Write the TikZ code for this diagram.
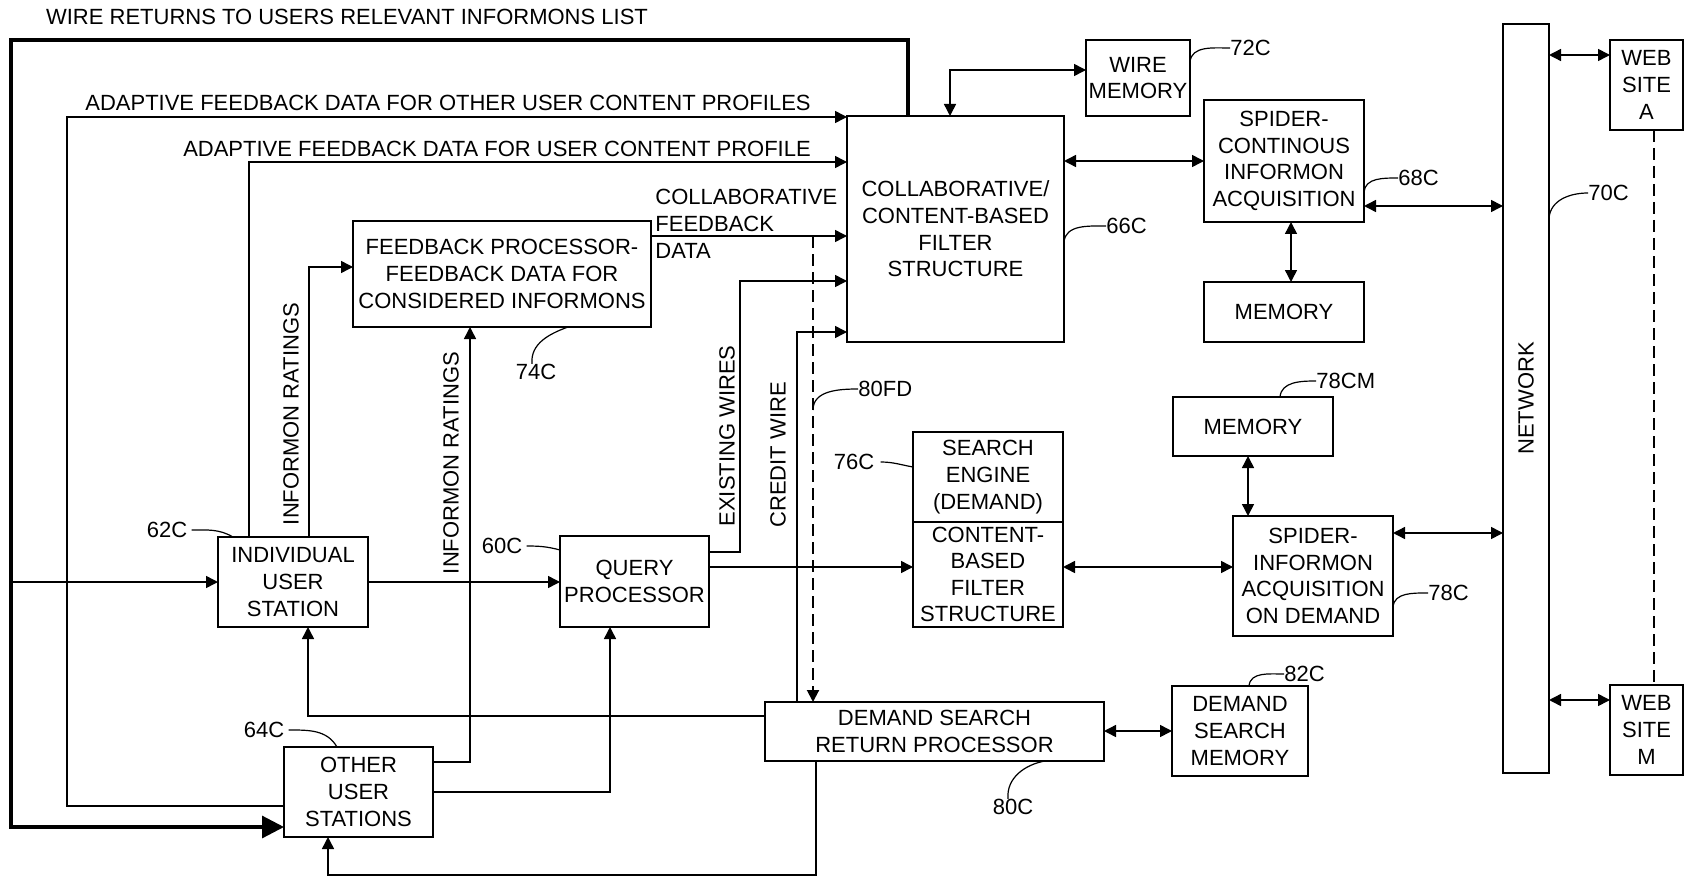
\documentclass[tikz,border=0pt]{standalone}
\usepackage{fontspec}
\setmainfont{Liberation Sans}
\usetikzlibrary{arrows.meta}
\newcommand{\bx}[6]{\node[box, minimum width={(#4-#2)*0.5pt}, minimum height={(#5-#3)*0.5pt}] (#1) at ({(#2+#4)/2},{(#3+#5)/2}) {#6};}
\begin{document}
\begin{tikzpicture}[x=0.5pt,y=-0.5pt,
  box/.style={draw, line width=0.75pt, inner sep=0pt, outer sep=0pt, align=center, font=\fontsize{11}{13.3}\selectfont},
  conn/.style={line width=0.75pt},
  arr/.style={conn, -{Triangle[length=6pt,width=6pt]}},
  darr/.style={conn, {Triangle[length=6pt,width=6pt]}-{Triangle[length=6pt,width=6pt]}},
  thickarr/.style={line width=1.6pt, -{Triangle[length=11pt,width=11pt]}},
  dsh/.style={line width=1pt, dash pattern=on 6pt off 3pt},
  lbl/.style={font=\fontsize{11}{13.3}\selectfont, inner sep=0pt},
  leader/.style={line width=0.6pt},
]
\useasboundingbox (0,0) rectangle (1690,882);

% boxes
\bx{collab}{847}{116}{1064}{342}{COLLABORATIVE/\\CONTENT-BASED\\FILTER\\STRUCTURE}
\bx{wirem}{1086}{40}{1190}{116}{WIRE\\MEMORY}
\bx{spiderc}{1204}{100}{1364}{222}{SPIDER-\\CONTINOUS\\INFORMON\\ACQUISITION}
\bx{memc}{1204}{282}{1364}{342}{MEMORY}
\bx{network}{1503}{24}{1549}{773}{}
\node[lbl, rotate=90] (nettext) at (network.center) {NETWORK};
\bx{webA}{1610}{40}{1683}{130}{WEB\\SITE\\A}
\bx{webM}{1610}{685}{1683}{775}{WEB\\SITE\\M}
\bx{memd}{1173}{397}{1333}{456}{MEMORY}
\bx{spiderd}{1233}{516}{1393}{636}{SPIDER-\\INFORMON\\ACQUISITION\\ON DEMAND}
\bx{search}{913}{432}{1063}{522}{SEARCH\\ENGINE\\(DEMAND)}
\bx{cbf}{913}{522}{1063}{627}{CONTENT-\\BASED\\FILTER\\STRUCTURE}
\bx{dsrp}{765}{702}{1104}{761}{DEMAND SEARCH\\RETURN PROCESSOR}
\bx{dsm}{1172}{686}{1308}{776}{DEMAND\\SEARCH\\MEMORY}
\bx{query}{560}{536}{709}{627}{QUERY\\PROCESSOR}
\bx{indiv}{218}{537}{368}{627}{INDIVIDUAL\\USER\\STATION}
\bx{other}{284}{747}{433}{837}{OTHER\\USER\\STATIONS}
\bx{fbp}{353}{221}{651}{327}{FEEDBACK PROCESSOR-\\FEEDBACK DATA FOR\\CONSIDERED INFORMONS}

% wire returns (thick)
\coordinate (wtop) at (11,40);
\coordinate (wbot) at (11,827);
\coordinate (wmid) at (11,582);
\draw[thickarr] (collab.north -| 908,0) -- (908,40) -- (wtop) -- (wbot) -- (other.west |- wbot);
\node[lbl, anchor=base] (ttl) at (347,25) {WIRE RETURNS TO USERS RELEVANT INFORMONS LIST};
\draw[arr] (wmid) -- (indiv.west |- wmid);

% adaptive feedback
\draw[arr] (other.west |- 0,806) -- (67,806) -- (67,117) -- (collab.west |- 0,117);
\node[lbl, anchor=base] (afo) at (448,111) {ADAPTIVE FEEDBACK DATA FOR OTHER USER CONTENT PROFILES};
\draw[arr] (indiv.north -| 249,0) -- (249,162) -- (collab.west |- 0,162);
\node[lbl, anchor=base] (afu) at (497,157) {ADAPTIVE FEEDBACK DATA FOR USER CONTENT PROFILE};

% informon ratings
\draw[arr] (indiv.north -| 309,0) -- (309,267) -- (fbp.west |- 0,267);
\node[lbl, rotate=90] (ir1) at (291,414) {INFORMON RATINGS};
\draw[arr] (other.east |- 0,762) -- (470,762) -- (fbp.south -| 470,0);
\node[lbl, rotate=90] (ir2) at (451,463) {INFORMON RATINGS};

% user stations to query processor
\draw[arr] (other.east |- 0,792) -- (610,792) -- (query.south -| 610,0);
\draw[arr] (indiv.east |- 0,582) -- (query.west |- 0,582);

% demand search returns
\draw[arr] (dsrp.west |- 0,716) -- (308,716) -- (indiv.south -| 308,0);
\draw[arr] (dsrp.south -| 816,0) -- (816,875) -- (328,875) -- (other.south -| 328,0);

% query processor outputs
\draw[arr] (query.east |- 0,567) -- (cbf.west |- 0,567);
\draw[arr] (query.east |- 0,552) -- (740,552) -- (740,281) -- (collab.west |- 0,281);
\node[lbl, rotate=90] (ew) at (727,436) {EXISTING WIRES};
\draw[arr] (dsrp.north -| 797,0) -- (797,332) -- (collab.west |- 0,332);
\node[lbl, rotate=90] (cw) at (778,455) {CREDIT WIRE};

% collaborative feedback
\draw[arr] (fbp.east |- 0,236) -- (collab.west |- 0,236);
\node[lbl, anchor=base west] (cf1) at (655,205) {COLLABORATIVE};
\node[lbl, anchor=base west] (cf2) at (655,232) {FEEDBACK};
\node[lbl, anchor=base west] (cf3) at (655,258) {DATA};
\coordinate (fbsplit) at (813,236);
\draw[dsh, -{Triangle[length=6pt,width=6pt]}] (fbsplit) -- (dsrp.north -| fbsplit);

% right side links
\draw[darr] (collab.north -| 950,0) -- (950,70) -- (wirem.west |- 0,70);
\draw[darr] (collab.east |- 0,161) -- (spiderc.west |- 0,161);
\draw[darr] (spiderc.east |- 0,206) -- (network.west |- 0,206);
\draw[darr] (spiderc.south -| 1291,0) -- (memc.north -| 1291,0);
\draw[darr] (network.east |- 0,55) -- (webA.west |- 0,55);
\draw[darr] (network.east |- 0,700) -- (webM.west |- 0,700);
\draw[dsh] (webA.south -| 1654,0) -- (webM.north -| 1654,0);
\draw[darr] (memd.south -| 1248,0) -- (spiderd.north -| 1248,0);
\draw[darr] (cbf.east |- 0,567) -- (spiderd.west |- 0,567);
\draw[darr] (spiderd.east |- 0,533) -- (network.west |- 0,533);
\draw[darr] (dsrp.east |- 0,731) -- (dsm.west |- 0,731);

% reference labels
\node[lbl, anchor=west] (l72) at (1230,48) {72C};
\draw[leader] (wirem.east |- 0,62) to[out=85,in=180] (l72.west);
\node[lbl, anchor=west] (l66) at (1106,226) {66C};
\draw[leader] (collab.east |- 0,242) to[out=85,in=180] (l66.west);
\node[lbl, anchor=west] (l68) at (1398,178) {68C};
\draw[leader] (spiderc.east |- 0,192) to[out=85,in=180] (l68.west);
\node[lbl, anchor=west] (l70) at (1588,193) {70C};
\draw[leader] (network.east |- 0,218) to[out=85,in=180] (l70.west);
\node[lbl, anchor=west] (l78cm) at (1316,381) {78CM};
\draw[leader] (memd.north -| 1280,0) to[out=85,in=180] (l78cm.west);
\node[lbl, anchor=west] (l78c) at (1428,593) {78C};
\draw[leader] (spiderd.east |- 0,607) to[out=85,in=180] (l78c.west);
\node[lbl, anchor=west] (l82) at (1284,674) {82C};
\draw[leader] (dsm.north -| 1249,0) to[out=85,in=180] (l82.west);
\node[lbl] (l80c) at (1013,807) {80C};
\draw[leader] (l80c.north -| 1008,0) to[out=95,in=190] (dsrp.south -| 1045,0);
\node[lbl] (l74) at (536,372) {74C};
\draw[leader] (l74.north -| 532,0) to[out=95,in=200] (fbp.south -| 568,0);
\node[lbl] (l62) at (167,530) {62C};
\draw[leader] (l62.east) ++(4,0) coordinate (l62a) (l62a) to[out=0,in=150] (indiv.north -| 233,0);
\node[lbl] (l60) at (502,546) {60C};
\draw[leader] (l60.east) ++(4,0) coordinate (l60a) (l60a) to[out=0,in=165] (query.west |- 0,550);
\node[lbl] (l64) at (264,730) {64C};
\draw[leader] (l64.east) ++(4,0) coordinate (l64a) (l64a) to[out=0,in=120] (other.north -| 337,0);
\node[lbl] (l76) at (854,462) {76C};
\draw[leader] (l76.east) ++(6,0) coordinate (l76a) (l76a) to[out=0,in=170] (search.west |- 0,467);
\node[lbl, anchor=west] (l80fd) at (858,389) {80FD};
\draw[leader] (813,410) to[out=90,in=180] (l80fd.west);
\end{tikzpicture}
\end{document}
